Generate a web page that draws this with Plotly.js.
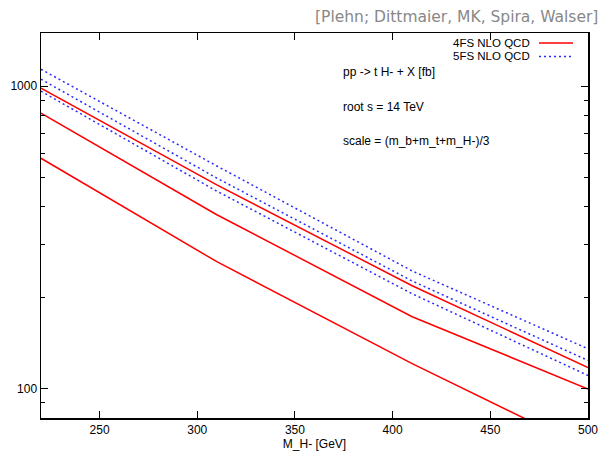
<!DOCTYPE html>
<html>
<head>
<meta charset="utf-8">
<script src="https://cdn.plot.ly/plotly-3.0.1.min.js"></script>
<style>html,body{margin:0;padding:0;background:#fff;}#chart{width:602px;height:454px;}</style>
</head>
<body>
<div id="chart"></div>
<script>
// Charged Higgs mass points [GeV]
const mass = [220, 310, 410, 500];
// 4FS NLO QCD (red, solid): upper, middle, lower curves [fb]
const fs4Upper = [985, 472, 219, 117.5];
const fs4Mid = [815, 376, 173, 99.8];
const fs4Lower = [578, 263, 121, 63];
// 5FS NLO QCD (blue, dotted): upper, middle, lower curves [fb]
const fs5Upper = [1138, 545, 245, 135.5];
const fs5Mid = [1055, 497, 227, 124];
const fs5Lower = [963, 450, 206, 110.6];

const xTicks = [250, 300, 350, 400, 450, 500];
const yTicks = [100, 1000];
const yMinor = [90, 200, 300, 400, 500, 600, 700, 800, 900];
const legendNames = ['4FS NLO QCD', '5FS NLO QCD'];

const red = '#ff0000', blue = '#2a2aff';
function tr(y, color, dash) {
  return {x: mass, y: y, type: 'scatter', mode: 'lines', showlegend: false,
    line: {color: color, width: 1.5, dash: dash}, hoverinfo: 'skip'};
}
const data = [
  tr(fs5Upper, blue, '2px,3px'), tr(fs5Mid, blue, '2px,3px'), tr(fs5Lower, blue, '2px,3px'),
  tr(fs4Upper, red, 'solid'), tr(fs4Mid, red, 'solid'), tr(fs4Lower, red, 'solid')
];

const font = {family: 'Liberation Sans, Arial, sans-serif', size: 12, color: '#000'};
const lfont = {family: 'Liberation Sans, Arial, sans-serif', size: 11.5, color: '#000'};
const row1 = 43, row2 = 56.5;
const P = (px) => (px - 41) / 547;
const Q = (py) => 1 - (py - 33) / 385;
const layout = {
  width: 602, height: 454,
  margin: {l: 41, r: 14, t: 33, b: 36},
  paper_bgcolor: '#fff', plot_bgcolor: '#fff',
  font: font,
  showlegend: false,
  xaxis: {
    range: [220, 500], tickvals: xTicks, ticks: 'inside', ticklen: 7, tickcolor: '#000',
    showline: true, linecolor: '#000', linewidth: 1.5, mirror: 'ticks', showgrid: false, zeroline: false,
    tickfont: font, title: {text: 'M_H- [GeV]', font: font, standoff: 2}
  },
  yaxis: {
    type: 'log', range: [Math.log10(80), Math.log10(1500)], tickvals: yTicks, ticktext: ['100', '1000'],
    ticks: 'inside', ticklen: 7, tickcolor: '#000',
    minor: {tickvals: yMinor, ticks: 'inside', ticklen: 4, tickcolor: '#000', showgrid: false},
    showline: true, linecolor: '#000', linewidth: 1.5, mirror: 'ticks', showgrid: false, zeroline: false,
    tickfont: font
  },
  annotations: [
    {xref: 'paper', yref: 'paper', x: 1.0, y: 1.0, xanchor: 'right', yanchor: 'bottom', yshift: 5, xshift: 12,
     text: '[Plehn; Dittmaier, MK, Spira, Walser]', showarrow: false,
     font: {family: 'DejaVu Sans, sans-serif', size: 15.5, color: '#888'}},
    {xref: 'paper', yref: 'paper', x: P(532), y: Q(row1), xanchor: 'right', yanchor: 'middle',
     text: legendNames[0], showarrow: false, font: lfont},
    {xref: 'paper', yref: 'paper', x: P(532), y: Q(row2), xanchor: 'right', yanchor: 'middle',
     text: legendNames[1], showarrow: false, font: lfont},
    {xref: 'paper', yref: 'paper', x: P(341), y: Q(72), xanchor: 'left', yanchor: 'middle',
     text: 'pp -> t H- + X [fb]', showarrow: false, font: font},
    {xref: 'paper', yref: 'paper', x: P(341), y: Q(107), xanchor: 'left', yanchor: 'middle',
     text: 'root s = 14 TeV', showarrow: false, font: font},
    {xref: 'paper', yref: 'paper', x: P(341), y: Q(141), xanchor: 'left', yanchor: 'middle',
     text: 'scale = (m_b+m_t+m_H-)/3', showarrow: false, font: font}
  ],
  shapes: [
    {type: 'line', xref: 'paper', yref: 'paper', x0: P(539), x1: P(573),
     y0: Q(row1), y1: Q(row1), line: {color: red, width: 1.5}},
    {type: 'line', xref: 'paper', yref: 'paper', x0: P(539), x1: P(573),
     y0: Q(row2), y1: Q(row2), line: {color: blue, width: 1.5, dash: '2px,3px'}}
  ]
};
Plotly.newPlot('chart', data, layout, {staticPlot: true, displayModeBar: false});
</script>
</body>
</html>
